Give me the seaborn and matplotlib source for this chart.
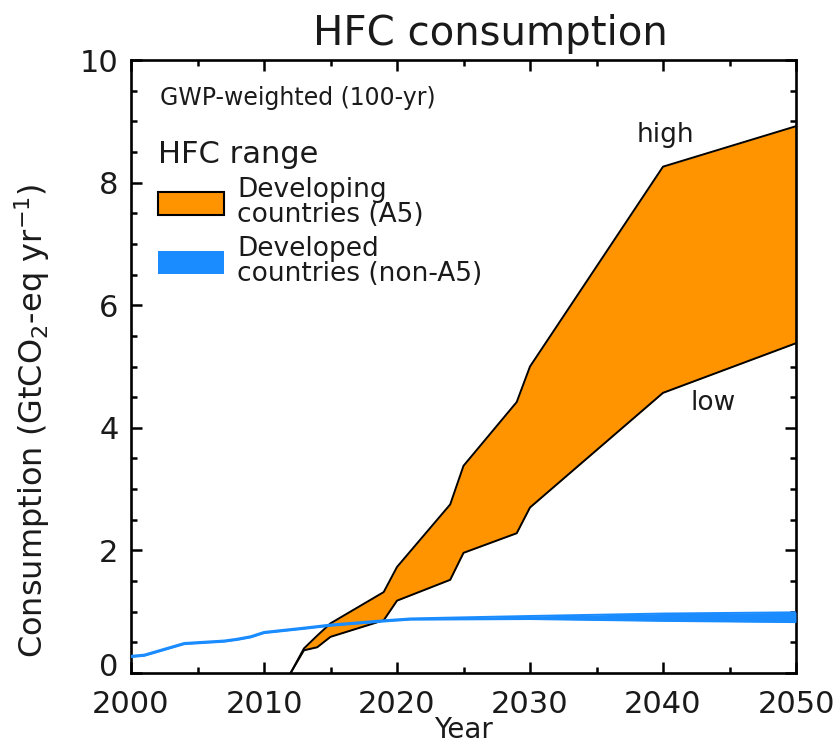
# HFC consumption: developing (A5) range vs developed (non-A5) range
import pandas as pd
import numpy as np
import matplotlib
matplotlib.use('Agg')
import matplotlib.pyplot as plt
import matplotlib.transforms as mtrans
from matplotlib.patches import Patch
from matplotlib.ticker import MultipleLocator
import seaborn as sns

# Developing countries (A5), high / low scenarios
a5_years = [2012, 2013, 2014, 2015, 2019, 2020, 2024, 2025, 2029, 2030, 2040, 2050]
a5_high = [0.0, 0.40, 0.61, 0.81, 1.32, 1.73, 2.75, 3.38, 4.42, 5.00, 8.26, 8.92]
a5_low = [0.0, 0.37, 0.42, 0.59, 0.86, 1.18, 1.52, 1.96, 2.28, 2.70, 4.57, 5.38]

# Developed countries (non-A5) band
dev_years = [2000, 2001, 2004, 2007, 2008, 2009, 2010, 2013, 2015, 2019, 2021, 2030, 2040, 2050]
dev_low = [0.26, 0.28, 0.47, 0.51, 0.54, 0.58, 0.65, 0.72, 0.77, 0.84, 0.87, 0.88, 0.85, 0.83]
dev_high = [0.28, 0.30, 0.49, 0.53, 0.56, 0.60, 0.67, 0.74, 0.79, 0.86, 0.89, 0.93, 0.97, 0.99]

orange = '#ff9300'
blue = '#1a8cff'
ink = '#1a1a1a'

sns.set_theme(style='ticks')
plt.rcParams['font.family'] = ['DejaVu Sans']
plt.rcParams['text.color'] = ink
plt.rcParams['axes.labelcolor'] = ink

a5 = pd.DataFrame({'year': a5_years, 'high': a5_high, 'low': a5_low})
dev = pd.DataFrame({'year': dev_years, 'low': dev_low, 'high': dev_high})

fig = plt.figure(figsize=(8.4, 7.47), dpi=100)
ax = fig.add_axes([131 / 840, 1 - 673 / 747, 665 / 840, 613 / 747])

# orange range with black outline
ax.fill_between(a5['year'], a5['low'], a5['high'], color=orange, lw=0, zorder=2)
sns.lineplot(data=a5, x='year', y='high', color='black', lw=1.4, ax=ax, zorder=3)
sns.lineplot(data=a5, x='year', y='low', color='black', lw=1.4, ax=ax, zorder=3)

# blue band on top
ax.fill_between(dev['year'], dev['low'], dev['high'], color=blue, lw=0, zorder=4)
sns.lineplot(data=dev, x='year', y='low', color=blue, lw=1.4, ax=ax, zorder=4)
sns.lineplot(data=dev, x='year', y='high', color=blue, lw=1.4, ax=ax, zorder=4)

ax.set_xlim(2000, 2050)
ax.set_ylim(0, 10)
ax.xaxis.set_major_locator(MultipleLocator(10))
ax.xaxis.set_minor_locator(MultipleLocator(5))
ax.yaxis.set_major_locator(MultipleLocator(2))
ax.yaxis.set_minor_locator(MultipleLocator(0.5))
ax.tick_params(which='both', direction='in', top=True, right=True, width=1.8,
               labelsize=22, colors='black', labelcolor=ink)
ax.tick_params(which='major', length=8)
ax.tick_params(which='minor', length=4)
ax.tick_params(axis='y', which='major', pad=9)
ax.tick_params(axis='x', which='major', pad=12)
for s in ax.spines.values():
    s.set_linewidth(1.9)
    s.set_color('black')

ax.set_xlabel('Year', fontsize=20, labelpad=-2)
ax.set_ylabel(r'Consumption (GtCO$_2$-eq yr$^{-1}$)', fontsize=23, va='center')
ax.yaxis.set_label_coords(-0.149, 0.411)

fig.text(490 / 840, 1 - 45 / 747, 'HFC consumption', fontsize=29, ha='center', va='baseline')

ax.text(0.043, (673 - 98) / 613, 'GWP-weighted (100-yr)', transform=ax.transAxes,
        fontsize=17, va='center', ha='left')
ax.text(2040.2, 8.78, 'high', fontsize=19, ha='center', va='center')
ax.text(2043.8, 4.40, 'low', fontsize=19, ha='center', va='center')

handles = [Patch(facecolor=orange, edgecolor='black', linewidth=1.5),
           Patch(facecolor=blue, edgecolor=blue, linewidth=0)]
leg = ax.legend(handles, ['Developing\ncountries (A5)', 'Developed\ncountries (non-A5)'],
                title='HFC range', title_fontsize=22, fontsize=19, frameon=False,
                loc='upper left', bbox_to_anchor=((158 - 131) / 665, (673 - 140) / 613),
                borderpad=0, borderaxespad=0, handlelength=2.5, handleheight=0.95,
                handletextpad=0.5, labelspacing=0.3, alignment='left')
for t in leg.get_texts():
    t.set_linespacing(0.95)

# lift the "0" label a little so it clears "2000"
fig.canvas.draw()
for tick in ax.yaxis.get_major_ticks():
    if abs(tick.get_loc()) < 1e-9:
        lbl = tick.label1
        lbl.set_transform(lbl.get_transform() +
                          mtrans.ScaledTranslation(0, 9 / 100, fig.dpi_scale_trans))

fig.savefig('out.png', dpi=100)
